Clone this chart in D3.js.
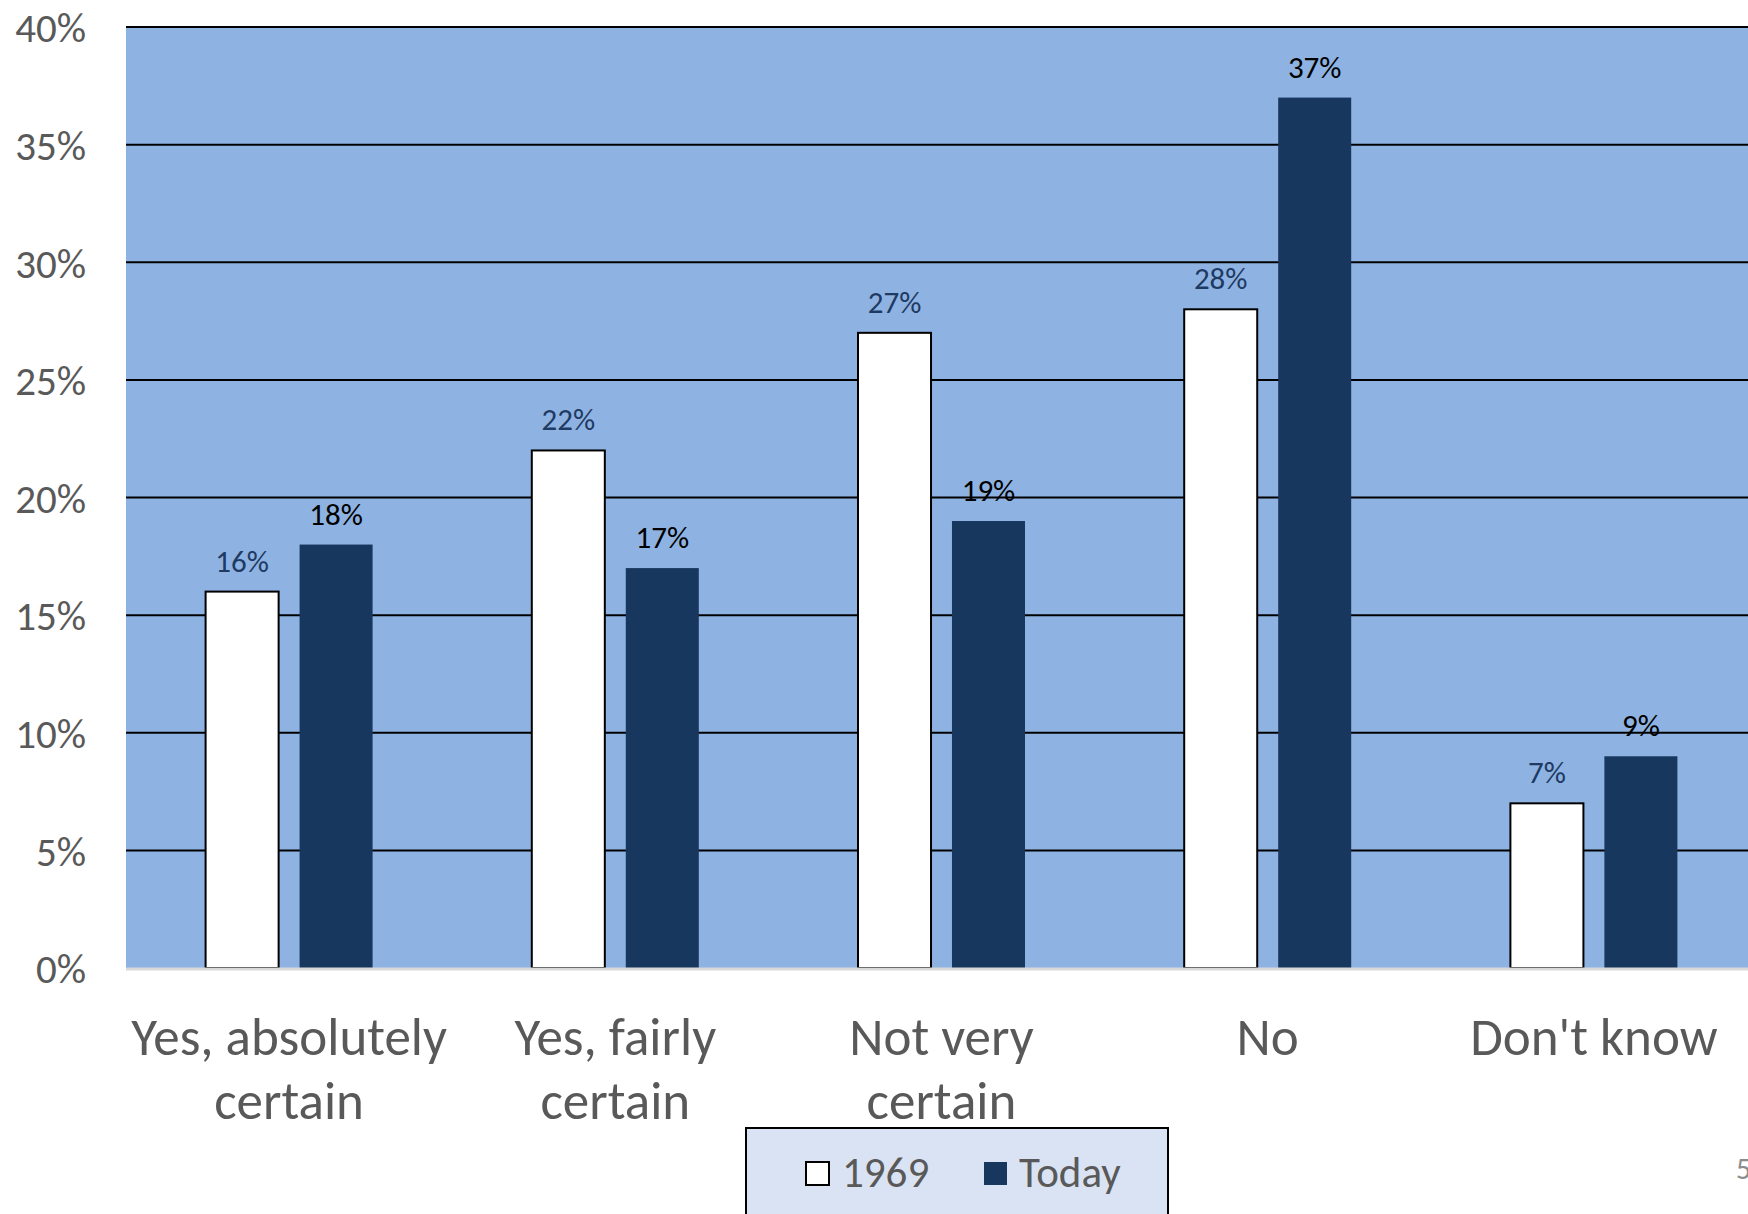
<!DOCTYPE html>
<html>
<head>
<meta charset="utf-8">
<script src="https://cdn.jsdelivr.net/npm/d3@7"></script>
<style>
  html, body { margin: 0; padding: 0; background: #ffffff; }
  svg { display: block; }
  text { font-family: Carlito, Calibri, Lato, "Open Sans", sans-serif; }
</style>
</head>
<body>
<svg id="chart" width="1748" height="1214"></svg>
<script>
// ---- data ----
const categories = ["Yes, absolutely certain", "Yes, fairly certain", "Not very certain", "No", "Don't know"];
const categoryLines = [["Yes, absolutely", "certain"], ["Yes, fairly", "certain"], ["Not very", "certain"], ["No"], ["Don't know"]];
const seriesNames = ["1969", "Today"];
const values1969 = [16, 22, 27, 28, 7];
const valuesToday = [18, 17, 19, 37, 9];
const tickValues = [0, 5, 10, 15, 20, 25, 30, 35, 40];
const tickLabels = ["0%", "5%", "10%", "15%", "20%", "25%", "30%", "35%", "40%"];
const pageNumber = "5";

// ---- layout ----
const W = 1748, H = 1214;
const plot = { left: 126, right: 1757, top: 27, bottom: 968 };
const colors = {
  plotBg: "#8EB3E2",
  today: "#18375F",
  white: "#FFFFFF",
  grid: "#000000",
  base: "#D9D9D9",
  axisText: "#595959",
  label1969: "#1F3A63",
  labelToday: "#000000",
  legendBg: "#DAE3F3"
};

const svg = d3.select("#chart");

const y = d3.scaleLinear().domain([0, 40]).range([plot.bottom, plot.top]);
const x0 = d3.scaleBand().domain(categories).range([plot.left, plot.right]);
const groupW = 167;
const x1 = d3.scaleBand().domain(seriesNames)
  .range([(x0.bandwidth() - groupW) / 2, (x0.bandwidth() + groupW) / 2])
  .paddingInner(0.223);

// plot background
svg.append("rect")
  .attr("x", plot.left).attr("y", plot.top)
  .attr("width", plot.right - plot.left).attr("height", plot.bottom - plot.top)
  .attr("fill", colors.plotBg);

// gridlines
svg.append("g").selectAll("line")
  .data(tickValues.filter(v => v > 0))
  .join("line")
  .attr("x1", plot.left).attr("x2", plot.right)
  .attr("y1", d => y(d)).attr("y2", d => y(d))
  .attr("stroke", colors.grid).attr("stroke-width", 2);

// y axis labels
const yAxis = d3.axisLeft(y).tickValues(tickValues)
  .tickFormat((d, i) => tickLabels[i]).tickSize(0).tickPadding(0);
const gy = svg.append("g").attr("transform", `translate(86,0)`).call(yAxis);
gy.select(".domain").remove();
gy.selectAll("text")
  .attr("fill", colors.axisText)
  .style("font-size", "41px")
  .attr("dy", "0.36em");

// bars
const rows = categories.map((c, i) => ({ cat: c, vals: [
  { s: "1969", v: values1969[i] },
  { s: "Today", v: valuesToday[i] }
]}));

const groups = svg.append("g").selectAll("g")
  .data(rows).join("g")
  .attr("transform", d => `translate(${x0(d.cat)},0)`);

groups.selectAll("rect")
  .data(d => d.vals).join("rect")
  .attr("x", d => x1(d.s))
  .attr("width", x1.bandwidth())
  .attr("y", d => y(d.v))
  .attr("height", d => y(0) - y(d.v))
  .attr("fill", d => d.s === "1969" ? colors.white : colors.today)
  .attr("stroke", d => d.s === "1969" ? "#000" : "none")
  .attr("stroke-width", 2);

groups.selectAll("text.val")
  .data(d => d.vals).join("text")
  .attr("class", "val")
  .attr("x", d => x1(d.s) + x1.bandwidth() / 2)
  .attr("y", d => y(d.v) - 20)
  .attr("text-anchor", "middle")
  .attr("fill", d => d.s === "1969" ? colors.label1969 : colors.labelToday)
  .style("font-size", "31px")
  .text(d => d.v + "%");

// baseline
svg.append("line")
  .attr("x1", plot.left).attr("x2", plot.right)
  .attr("y1", y(0) + 1).attr("y2", y(0) + 1)
  .attr("stroke", colors.base).attr("stroke-width", 3);

// category labels
const catG = svg.append("g");
categories.forEach((c, i) => {
  const t = catG.append("text")
    .attr("x", x0(c) + x0.bandwidth() / 2)
    .attr("y", 1055)
    .attr("text-anchor", "middle")
    .attr("fill", colors.axisText)
    .style("font-size", "53px");
  categoryLines[i].forEach((ln, j) => {
    t.append("tspan")
      .attr("x", x0(c) + x0.bandwidth() / 2)
      .attr("y", 1055 + j * 64)
      .text(ln);
  });
});

// legend
const lg = svg.append("g");
lg.append("rect")
  .attr("x", 746).attr("y", 1128).attr("width", 422).attr("height", 100)
  .attr("fill", colors.legendBg).attr("stroke", "#000").attr("stroke-width", 2);
const legendItems = [
  { name: seriesNames[0], fill: colors.white, stroke: "#000", sx: 806, tx: 842 },
  { name: seriesNames[1], fill: colors.today, stroke: "none", sx: 984, tx: 1019 }
];
legendItems.forEach(it => {
  lg.append("rect")
    .attr("x", it.sx).attr("y", 1162).attr("width", 23).attr("height", 23)
    .attr("fill", it.fill).attr("stroke", it.stroke).attr("stroke-width", 2);
  lg.append("text")
    .attr("x", it.tx).attr("y", 1187)
    .attr("fill", colors.axisText)
    .style("font-size", "43px")
    .text(it.name);
});

// page number (partly cut off at the right edge, as in the original)
svg.append("text")
  .attr("x", 1736).attr("y", 1179)
  .attr("fill", "#8C8C8C")
  .style("font-size", "30px")
  .text(pageNumber);
</script>
</body>
</html>
